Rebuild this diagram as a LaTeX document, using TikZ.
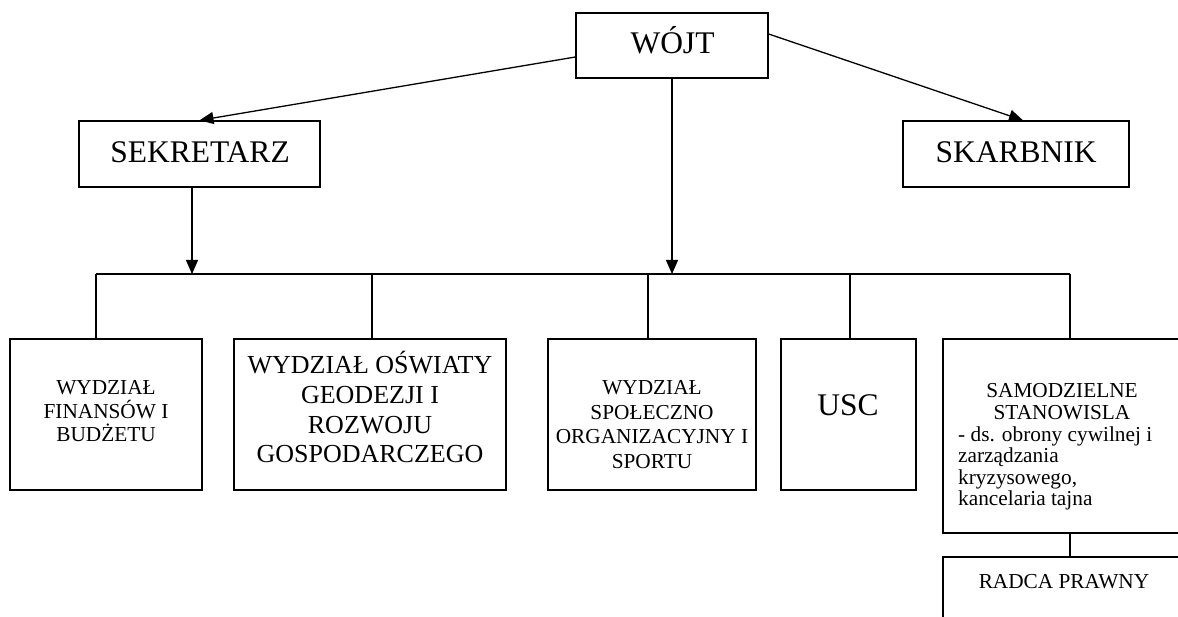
\documentclass[tikz,border=0pt]{standalone}
\usepackage{fontspec}
\setmainfont{Liberation Serif}
\usetikzlibrary{arrows.meta}
\begin{document}
\begin{tikzpicture}[x=1pt,y=-1pt,
  box/.style={draw, line width=1.3pt, inner sep=0pt},
  conn/.style={line width=1.3pt},
  arr/.style={conn, -{Triangle[length=14pt,width=12pt]}},
  big/.style={font=\fontsize{31.5}{36}\selectfont, inner sep=0pt, anchor=base},
  mid/.style={font=\fontsize{26}{30}\selectfont, inner sep=0pt, anchor=base},
  sml/.style={font=\fontsize{21.3}{24}\selectfont, inner sep=0pt, anchor=base},
  smlw/.style={sml, anchor=base west}]
\useasboundingbox (0,0) rectangle (1178,617);
\clip (0,0) rectangle (1178,617);
% top level boxes
\node[box, minimum width=192pt, minimum height=65pt] (wojt) at (672,45.5) {};
\node[box, minimum width=241pt, minimum height=66pt] (sek) at (199.5,154) {};
\node[box, minimum width=226pt, minimum height=66pt] (skar) at (1016,154) {};
% lower boxes
\node[box, minimum width=192pt, minimum height=151pt] (b1) at (106,414.5) {};
\node[box, minimum width=272pt, minimum height=151pt] (b2) at (370,414.5) {};
\node[box, minimum width=208pt, minimum height=151pt] (b3) at (652,414.5) {};
\node[box, minimum width=135pt, minimum height=151pt] (b4) at (848.5,414.5) {};
\node[box, minimum width=242pt, minimum height=194pt] (b5) at (1064,436) {};
\node[box, minimum width=242pt, minimum height=83pt] (b6) at (1064,598.5) {};
% texts
\node[big] (twojt) at (672.5,54) {WÓJT};
\node[big] (tsek) at (200,163) {SEKRETARZ};
\node[big] (tskar) at (1016,163) {SKARBNIK};
\node[sml] (t1a) at (106,395) {WYDZIAŁ};
\node[sml] (t1b) at (106,418) {FINANSÓW I};
\node[sml] (t1c) at (106,441) {BUDŻETU};
\node[mid] (t2a) at (370,374) {WYDZIAŁ OŚWIATY};
\node[mid] (t2b) at (370,403.5) {GEODEZJI I};
\node[mid] (t2c) at (370,433) {ROZWOJU};
\node[mid] (t2d) at (370,462) {GOSPODARCZEGO};
\node[sml] (t3a) at (652,395) {WYDZIAŁ};
\node[sml] (t3b) at (652,419) {SPOŁECZNO};
\node[sml] (t3c) at (652,443.5) {ORGANIZACYJNY I};
\node[sml] (t3d) at (652,468) {SPORTU};
\node[big] (t4) at (848,416) {USC};
\node[sml] (t5a) at (1062,398) {SAMODZIELNE};
\node[sml] (t5b) at (1062,419.5) {STANOWISLA};
\node[smlw] (t5c) at (958,441) {- ds. obrony cywilnej i};
\node[smlw] (t5d) at (958,462.5) {zarządzania};
\node[smlw] (t5e) at (958,484) {kryzysowego,};
\node[smlw] (t5f) at (958,505.5) {kancelaria tajna};
\node[sml] (t6) at (1064,588) {RADCA PRAWNY};
% bus
\coordinate (d1) at (96,274);
\coordinate (d2) at (372,274);
\coordinate (d3) at (648,274);
\coordinate (d4) at (850,274);
\coordinate (d5) at (1070,274);
% connectors
\draw[arr] ([yshift=-11.5pt]wojt.west) -- (sek.north);
\draw[arr] ([yshift=11.5pt]wojt.east) -- ([xshift=7pt]skar.north);
\draw[arr] ([xshift=-7.5pt]sek.south) -- ([xshift=-7.5pt]sek.south |- d1);
\draw[arr] (wojt.south) -- (wojt.south |- d1);
\draw[conn] (d1) -- (d5);
\draw[conn] (d1) -- (d1 |- b1.north);
\draw[conn] (d2) -- (d2 |- b2.north);
\draw[conn] (d3) -- (d3 |- b3.north);
\draw[conn] (d4) -- (d4 |- b4.north);
\draw[conn] (d5) -- (d5 |- b5.north);
\draw[conn] ([xshift=6pt]b5.south) -- ([xshift=6pt]b6.north);
\end{tikzpicture}
\end{document}
